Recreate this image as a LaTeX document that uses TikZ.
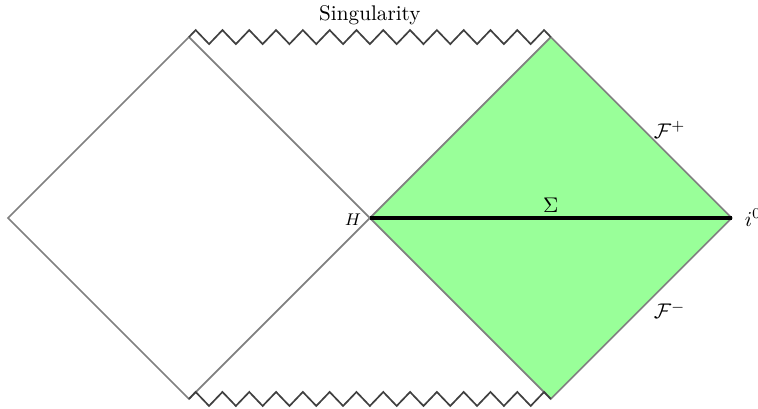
\documentclass[tikz,border=0pt]{standalone}
\begin{document}
\begin{tikzpicture}[
  edge/.style={draw=black!50, line width=0.8pt},
  sing/.style={draw=black!75, line width=0.8pt, line join=miter},
  lbl/.style={inner sep=2pt}
]
\useasboundingbox (-6.133,-3.151) rectangle (6.435,3.615);
\coordinate (L) at (-6,0);
\coordinate (TL) at (-3,3);
\coordinate (H) at (0,0);
\coordinate (BL) at (-3,-3);
\coordinate (TR) at (3,3);
\coordinate (R) at (6,0);
\coordinate (BR) at (3,-3);
\fill[green!40] (H) -- (TR) -- (R) -- (BR) -- cycle;
\draw[edge] (L) -- (TL) -- (H) -- (BL) -- cycle;
\draw[edge] (H) -- (TR) -- (R) -- (BR) -- cycle;
\draw[sing] (TL) \foreach \k in {0,...,26} { -- ({-3+0.1111+\k*0.2222},{3+0.116*(1-2*mod(\k,2))}) } -- (TR);
\draw[sing] (BL) \foreach \k in {0,...,26} { -- ({-3+0.1111+\k*0.2222},{-3+0.116*(1-2*mod(\k,2))}) } -- (BR);
\draw[line width=1.6pt, black] (H) -- (R) node[midway, above, lbl] (sig) {$\Sigma$};
\node[left, lbl, xshift=-2pt, yshift=-1pt, font=\footnotesize] (hl) at (H) {$H$};
\node[right, lbl, xshift=4pt] (il) at (R) {$i^0$};
\node (fp) at (4.97,1.46) {$\mathcal{F}^+$};
\node (fm) at (4.97,-1.53) {$\mathcal{F}^-$};
\node (sl) at (0,3.36) {Singularity};
\end{tikzpicture}
\end{document}
